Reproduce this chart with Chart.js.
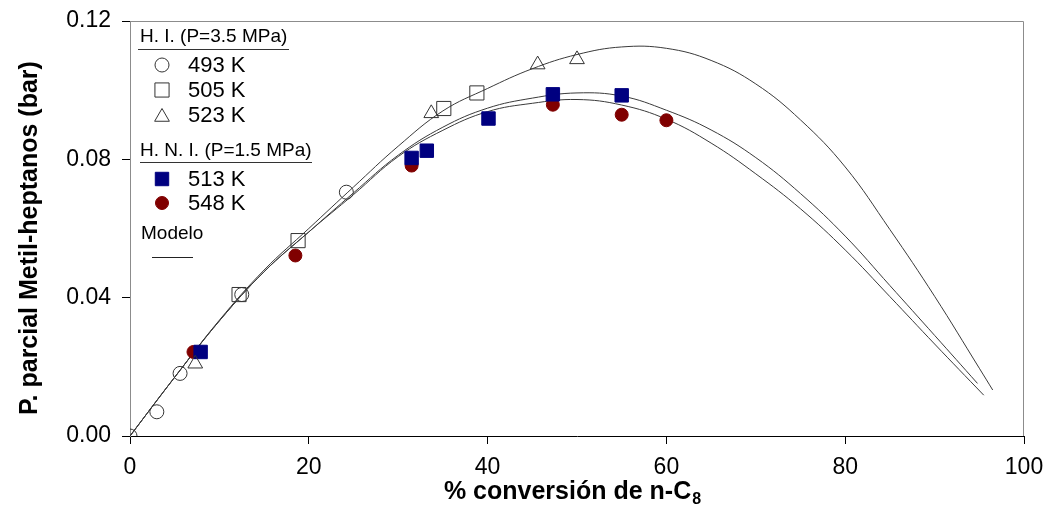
<!DOCTYPE html>
<html>
<head>
<meta charset="utf-8">
<script src="https://cdn.jsdelivr.net/npm/chart.js@4"></script>
<style>
  body { margin: 0; background: #fff; }
  #chart { display: block; }
</style>
</head>
<body>
<canvas id="chart" width="1047" height="517"></canvas>
<script>
// axis ticks
var xTicks = [0, 20, 40, 60, 80, 100];
var yTicks = [0, 0.04, 0.08, 0.12];

// H. I. (P=3.5 MPa) experimental points
var hi493X = [0, 3.0, 5.6, 12.5, 24.2];
var hi493Y = [0, 0.0070, 0.0181, 0.0409, 0.0705];
var hi505X = [12.2, 18.8, 35.1, 38.8];
var hi505Y = [0.0409, 0.0565, 0.0947, 0.0992];
var hi523X = [7.3, 33.7, 45.6, 50.0];
var hi523Y = [0.0209, 0.0933, 0.1074, 0.1089];

// H. N. I. (P=1.5 MPa) experimental points
var hni513X = [7.9, 31.5, 33.2, 40.1, 47.3, 55.0];
var hni513Y = [0.0243, 0.0804, 0.0825, 0.0918, 0.0988, 0.0985];
var hni548X = [7.1, 18.5, 31.5, 47.3, 55.0, 60.0];
var hni548Y = [0.0243, 0.0522, 0.0782, 0.0958, 0.0929, 0.0913];

// model curves
var modelAX = [0, 5, 10, 15, 20, 25, 30, 35, 40, 45, 50, 55, 60, 65, 70, 75, 80, 85, 90, 95, 96.5];
var modelAY = [0, 0.0170, 0.0335, 0.0480, 0.0600, 0.0720, 0.0838, 0.0940, 0.1005, 0.1062, 0.1103, 0.1125, 0.1121, 0.1086, 0.1018, 0.0914, 0.0778, 0.0597, 0.0404, 0.0196, 0.0133];
var modelBX = [0, 5, 10, 15, 20, 25, 30, 35, 40, 45, 50, 55, 60, 65, 70, 75, 80, 85, 90, 94.8];
var modelBY = [0, 0.0170, 0.0333, 0.0475, 0.0590, 0.0703, 0.0812, 0.0893, 0.0948, 0.0977, 0.0992, 0.0983, 0.0942, 0.0885, 0.0805, 0.0701, 0.0578, 0.0435, 0.0291, 0.0152];
var modelCX = [0, 5, 10, 15, 20, 25, 30, 35, 40, 45, 50, 55, 60, 65, 70, 75, 80, 85, 90, 95.5];
var modelCY = [0, 0.0170, 0.0333, 0.0475, 0.0590, 0.0698, 0.0808, 0.0884, 0.0938, 0.0962, 0.0973, 0.0957, 0.0916, 0.0847, 0.0758, 0.0657, 0.0538, 0.0403, 0.0266, 0.0118];

function pts(xs, ys) {
  return xs.map(function(x, i) { return {x: x, y: ys[i]}; });
}

var FONT = "'Liberation Sans', Arial, sans-serif";

var markers = {
  c493: {pointStyle: 'circle', radius: 7, bg: 'rgba(0,0,0,0)', border: '#333'},
  s505: {pointStyle: 'rect', radius: 10, bg: 'rgba(0,0,0,0)', border: '#333'},
  t523: {pointStyle: 'triangle', radius: 8.5, bg: 'rgba(0,0,0,0)', border: '#333'},
  s513: {pointStyle: 'rect', radius: 9.5, bg: '#000080', border: '#000080'},
  c548: {pointStyle: 'circle', radius: 6.5, bg: '#800000', border: '#800000'}
};

function scatterSet(label, data, m, order) {
  return {
    label: label,
    data: data,
    showLine: false,
    pointStyle: m.pointStyle,
    pointRadius: m.radius,
    pointHoverRadius: m.radius,
    pointBackgroundColor: m.bg,
    pointBorderColor: m.border,
    pointBorderWidth: 1,
    order: order
  };
}

function modelSet(data) {
  return {
    label: 'Modelo',
    data: data,
    showLine: true,
    borderColor: '#3a3a3a',
    borderWidth: 1,
    pointRadius: 0,
    tension: 0.4,
    order: 10
  };
}

// drop the automatic padding Chart.js reserves for edge tick labels
function noEdgePad(s) {
  s.paddingTop = 0; s.paddingBottom = 0;
  s.paddingLeft = 0; s.paddingRight = 0;
}

// legend, frame and axis titles drawn on the canvas
var decor = {
  id: 'decor',
  beforeDatasetsDraw: function(chart) {
    var ctx = chart.ctx, a = chart.chartArea;
    ctx.save();
    ctx.strokeStyle = '#8c8c8c';
    ctx.lineWidth = 1;
    ctx.beginPath();
    ctx.moveTo(a.left + 0.5, a.bottom);
    ctx.lineTo(a.left + 0.5, a.top + 0.5);
    ctx.lineTo(a.right - 0.5, a.top + 0.5);
    ctx.lineTo(a.right - 0.5, a.bottom);
    ctx.stroke();
    ctx.restore();
  },
  afterDraw: function(chart) {
    var ctx = chart.ctx;
    ctx.save();
    ctx.fillStyle = '#000';
    ctx.textBaseline = 'middle';
    ctx.textAlign = 'left';

    // group headers
    ctx.font = '19px ' + FONT;
    ctx.fillText('H. I. (P=3.5 MPa)', 140, 37);
    ctx.fillText('H. N. I. (P=1.5 MPa)', 140, 151);
    ctx.strokeStyle = '#333';
    ctx.lineWidth = 1;
    ctx.beginPath();
    ctx.moveTo(138, 49.5); ctx.lineTo(289, 49.5);
    ctx.moveTo(140, 162.5); ctx.lineTo(312, 162.5);
    ctx.stroke();

    var rows = [
      ['493 K', markers.c493, 65],
      ['505 K', markers.s505, 90],
      ['523 K', markers.t523, 115],
      ['513 K', markers.s513, 179],
      ['548 K', markers.c548, 203]
    ];
    ctx.font = '22px ' + FONT;
    rows.forEach(function(r) {
      var m = r[1];
      ctx.fillStyle = m.bg;
      ctx.strokeStyle = m.border;
      ctx.lineWidth = 1;
      Chart.helpers.drawPoint(ctx, {pointStyle: m.pointStyle, radius: m.radius, borderWidth: 1}, 162, r[2] + (m.pointStyle === 'triangle' ? 2 : 0));
      ctx.fillStyle = '#000';
      ctx.fillText(r[0], 188, r[2] + 1);
    });

    ctx.font = '19px ' + FONT;
    ctx.fillText('Modelo', 141, 234);
    ctx.strokeStyle = '#222';
    ctx.beginPath();
    ctx.moveTo(152, 257.5); ctx.lineTo(193, 257.5);
    ctx.stroke();

    // y axis title
    ctx.font = 'bold 25px ' + FONT;
    ctx.save();
    ctx.translate(30, 238);
    ctx.rotate(-Math.PI / 2);
    ctx.textAlign = 'center';
    ctx.fillText('P. parcial Metil-heptanos (bar)', 0, 0);
    ctx.restore();

    // x axis title with subscript
    var main = '% conversión de n-C';
    ctx.font = 'bold 25px ' + FONT;
    var w1 = ctx.measureText(main).width;
    ctx.font = 'bold 16px ' + FONT;
    var w2 = ctx.measureText('8').width;
    var x0 = 572 - (w1 + w2) / 2;
    ctx.font = 'bold 25px ' + FONT;
    ctx.fillText(main, x0, 492);
    ctx.font = 'bold 16px ' + FONT;
    ctx.fillText('8', x0 + w1 + 1, 500);
    ctx.restore();
  }
};

new Chart(document.getElementById('chart'), {
  type: 'scatter',
  data: {
    datasets: [
      scatterSet('493 K', pts(hi493X, hi493Y), markers.c493, 0),
      scatterSet('505 K', pts(hi505X, hi505Y), markers.s505, 0),
      scatterSet('523 K', pts(hi523X, hi523Y), markers.t523, 0),
      scatterSet('513 K', pts(hni513X, hni513Y), markers.s513, 1),
      scatterSet('548 K', pts(hni548X, hni548Y), markers.c548, 2),
      modelSet(pts(modelAX, modelAY)),
      modelSet(pts(modelBX, modelBY)),
      modelSet(pts(modelCX, modelCY))
    ]
  },
  options: {
    responsive: false,
    animation: false,
    events: [],
    layout: { padding: { top: 21, right: 23, left: 0, bottom: 0 } },
    plugins: { legend: { display: false }, tooltip: { enabled: false } },
    scales: {
      x: {
        type: 'linear',
        min: 0, max: 100,
        afterFit: function(s) { s.height = 81; noEdgePad(s); },
        afterBuildTicks: function(s) { s.ticks = xTicks.map(function(v) { return {value: v}; }); },
        grid: { drawOnChartArea: false, drawTicks: true, tickLength: 8, tickColor: '#000' },
        border: { display: true, color: '#000', width: 1 },
        ticks: { color: '#000', padding: 10, maxRotation: 0, font: { family: FONT, size: 23 } }
      },
      y: {
        type: 'linear',
        min: 0, max: 0.12,
        afterFit: function(s) { s.width = 130; noEdgePad(s); },
        afterBuildTicks: function(s) { s.ticks = yTicks.map(function(v) { return {value: v}; }); },
        grid: { drawOnChartArea: false, drawTicks: true, tickLength: 8, tickColor: '#000' },
        border: { display: true, color: '#8c8c8c', width: 1 },
        ticks: {
          color: '#000', padding: 11,
          font: { family: FONT, size: 23 },
          callback: function(v) { return v.toFixed(2); }
        }
      }
    }
  },
  plugins: [decor]
});
</script>
</body>
</html>
